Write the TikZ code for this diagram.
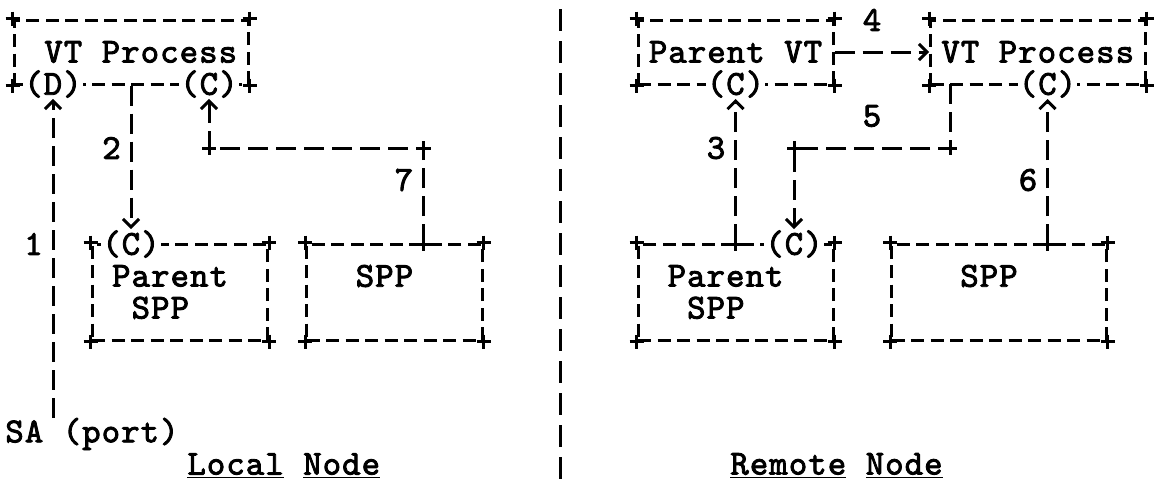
\documentclass[tikz,border=0pt]{standalone}
\usepackage{fontspec}
\setmonofont{lmmono10-regular.otf}[FakeBold=2.5,LetterSpace=3.2]
\usetikzlibrary{arrows.meta}

\begin{document}
\begin{tikzpicture}[x=0.5pt,y=-0.5pt,
 font=\ttfamily\fontsize{17.5}{16}\selectfont,
 box/.style={draw,line width=1.5pt,dash pattern=on 6.5pt off 3.25pt,inner sep=0pt},
 port/.style={fill=white,inner sep=0.5pt},
 conn/.style={line width=1.5pt,dash pattern=on 10pt off 4pt,-{Straight Barb[length=4pt,width=8pt]}},
 cross/.style={line width=1.5pt},
 tag/.style={inner sep=0pt}
]
\useasboundingbox (0,0) rectangle (1160,489);

% local node
\node[box,minimum width=117pt,minimum height=32pt] (vtl) at (131,52) {};
\node[tag] at (140.75,52) {VT Process};
\node[port] (dvtl) at (53,84) {(D)};
\node[port] (cvtl) at (209,84) {(C)};

\node[box,minimum width=87.75pt,minimum height=48pt] (psl) at (179.75,292) {};
\node[tag,anchor=west,align=left] at (111.75,292) {Parent\\\ SPP};
\node[port] (cpsl) at (131,244) {(C)};

\node[box,minimum width=87.75pt,minimum height=48pt] (sppl) at (394.25,292) {};
\node[tag] at (384.5,276) {SPP};

\node[tag] (sa) at (92,434) {SA (port)};
\coordinate (j7) at (423.5,244);
\coordinate (m7) at (423.5,148);
\coordinate (k7) at (209,148);

\draw[conn] (sa.north -| dvtl.south) -- (dvtl.south);
\draw[conn] (vtl.south -| cpsl.north) -- (cpsl.north);
\draw[conn] (j7) -- (m7) -- (k7) -- (cvtl.south);

\node[tag] at (33.5,244) {1};
\node[tag] at (111.5,148) {2};
\node[tag] at (404,180) {7};
\node[tag,anchor=west] (ln) at (187,466) {\underline{Local} \underline{Node}};

% divider
\draw[line width=1.5pt,dash pattern=on 11pt off 5pt] (560,9) -- (560,479);

% remote node
\node[box,minimum width=97.5pt,minimum height=32pt] (pvt) at (735.5,52) {};
\node[tag] at (735.5,52) {Parent VT};
\node[port] (cpvt) at (735.5,84) {(C)};

\node[box,minimum width=107.25pt,minimum height=32pt] (vtr) at (1037.75,52) {};
\node[tag] at (1037.75,52) {VT Process};
\node[port] (cvtr) at (1047.5,84) {(C)};

\node[box,minimum width=97.5pt,minimum height=48pt] (psr) at (735.5,292) {};
\node[tag,anchor=west,align=left] at (667.25,292) {Parent\\\ SPP};
\node[port] (cpsr) at (794,244) {(C)};

\node[box,minimum width=107.25pt,minimum height=48pt] (sppr) at (998.75,292) {};
\node[tag] at (989,276) {SPP};

\coordinate (j3) at (735.5,244);
\coordinate (j6) at (1047.5,244);
\coordinate (s5) at (950,84);
\coordinate (m5) at (950,148);
\coordinate (k5) at (794,148);

\draw[conn] (pvt.east) -- (vtr.west);
\draw[conn] (j3) -- (cpvt.south);
\draw[conn] (s5) -- (m5) -- (k5) -- (cpsr.north);
\draw[conn] (j6) -- (cvtr.south);

\node[tag] at (716,148) {3};
\node[tag] at (872,20) {4};
\node[tag] at (872,116) {5};
\node[tag] at (1028,180) {6};
\node[tag,anchor=west] (rn) at (730,466) {\underline{Remote} \underline{Node}};

% corner and bend marks
\foreach \p in {vtl.north west,vtl.north east,vtl.south west,vtl.south east,
  psl.north west,psl.north east,psl.south west,psl.south east,
  sppl.north west,sppl.north east,sppl.south west,sppl.south east,
  pvt.north west,pvt.north east,pvt.south west,pvt.south east,
  vtr.north west,vtr.north east,vtr.south west,vtr.south east,
  psr.north west,psr.north east,psr.south west,psr.south east,
  sppr.north west,sppr.north east,sppr.south west,sppr.south east,
  j7,m7,k7,j3,j6,m5,k5}
  \draw[cross] (\p) +(-7,0) -- +(7,0) +(0,-7) -- +(0,7);
\end{tikzpicture}
\end{document}
